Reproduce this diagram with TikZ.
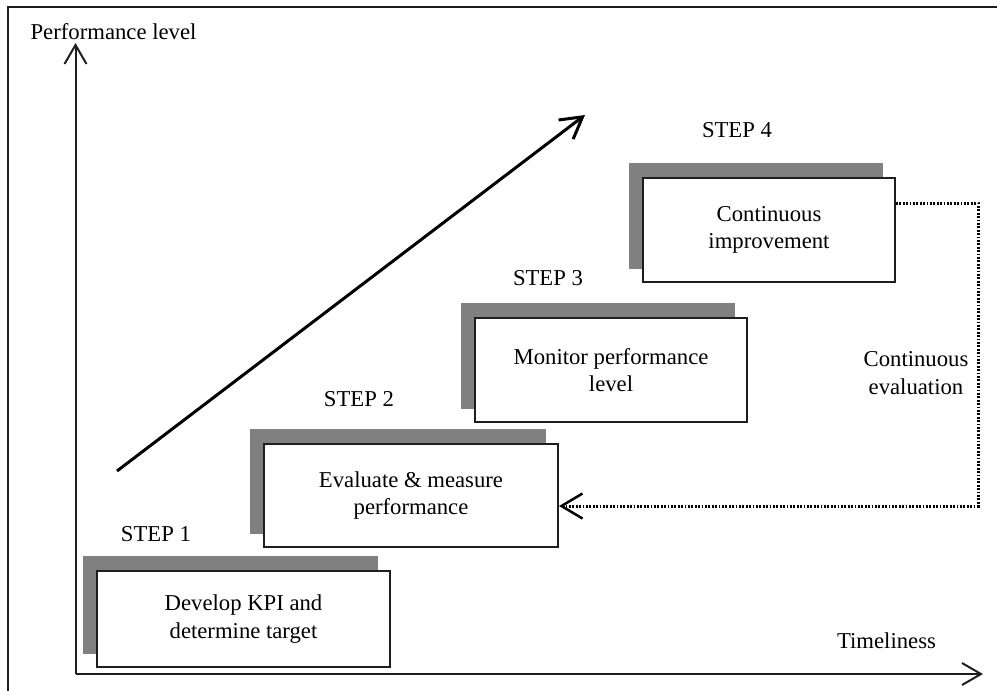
\documentclass[tikz,border=0pt]{standalone}
\usepackage{fontspec}
\setmainfont{Liberation Serif}
\usetikzlibrary{arrows.meta,backgrounds}

\definecolor{shadowgray}{RGB}{128,128,128}
\definecolor{inkline}{RGB}{30,30,30}

\tikzset{
  every node/.style={font=\fontsize{22.7}{27.5}\selectfont, inner sep=0pt},
  frameline/.style={line width=2pt, inkline},
  axisline/.style={line width=2pt, inkline, -{Straight Barb[length=19pt,width=22pt]}},
  trendline/.style={line width=3pt, black, -{Straight Barb[length=21pt,width=24pt]}},
  stepbox/.style={draw=inkline, line width=1.6pt, fill=white, align=center},
  steplabel/.style={anchor=base},
  feedback/.style={line width=3pt, black, dash pattern=on 1.8pt off 1.6pt,
    -{Straight Barb[length=21pt,width=25pt,line width=2.5pt]}},
  shade/.style={fill=shadowgray}
}

\begin{document}
\begin{tikzpicture}[x=1pt, y=-1pt]
  \useasboundingbox (0,0) rectangle (997,691);

  % outer frame
  \draw[frameline] (8,700) -- (8,7) -- (1005,7);

  % axes
  \coordinate (origin) at (75.5,674);
  \coordinate (ytop) at (75.5,43);
  \coordinate (xend) at (983,674);
  \draw[axisline] (origin) -- (ytop);
  \draw[axisline] (origin) -- (xend);
  \node[anchor=base] (ylab) at (113.5,39) {Performance level};
  \node[anchor=base] (xlab) at (886.5,648) {Timeliness};

  % rising trend
  \coordinate (trend0) at (117,471);
  \coordinate (trend1) at (585,115);
  \draw[trendline] (trend0) -- (trend1);

  % step boxes
  \node[stepbox, minimum width=293.5pt, minimum height=96.5pt] (s1) at (243.5,619)
    {Develop KPI and\\determine target};
  \node[stepbox, minimum width=294.5pt, minimum height=103.5pt] (s2) at (411,495.5)
    {Evaluate \& measure\\performance};
  \node[stepbox, minimum width=272.5pt, minimum height=104.5pt] (s3) at (611,370)
    {Monitor performance\\level};
  \node[stepbox, minimum width=252.5pt, minimum height=104.5pt] (s4) at (769,230)
    {Continuous\\improvement};

  % offset shadows behind the boxes
  \begin{scope}[on background layer]
    \foreach \b in {s1,s2,s3,s4}{
      \fill[shade] ([shift={(-13pt,14pt)}]\b.north west) rectangle ([shift={(-13pt,14pt)}]\b.south east);
    }
  \end{scope}

  % step labels
  \node[steplabel] (l1) at (156,541) {STEP 1};
  \node[steplabel] (l2) at (359,406) {STEP 2};
  \node[steplabel] (l3) at (548,285) {STEP 3};
  \node[steplabel] (l4) at (737,137) {STEP 4};

  % feedback loop
  \coordinate (loopright) at (978,350);
  \draw[feedback] ([yshift=27pt]s4.east) -| (loopright) |- ([yshift=-10.5pt]s2.east);
  \node[align=center] (evallab) at (916,373) {Continuous\\evaluation};
\end{tikzpicture}
\end{document}
